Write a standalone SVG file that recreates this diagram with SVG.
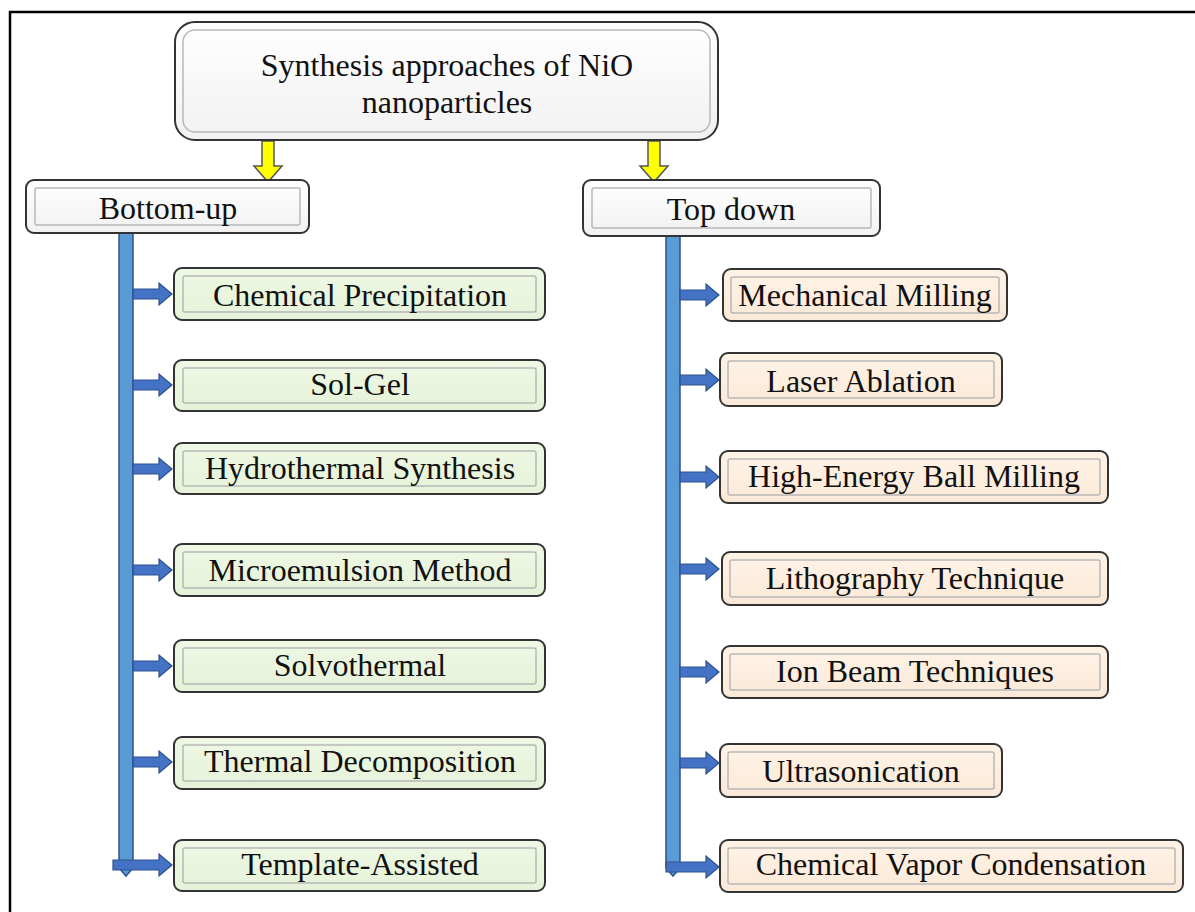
<svg xmlns="http://www.w3.org/2000/svg" width="1195" height="912" viewBox="0 0 1195 912">
<defs>
<linearGradient id="gTop" x1="0" y1="0" x2="0" y2="1"><stop offset="0" stop-color="#ffffff"/><stop offset="1" stop-color="#f1f1f1"/></linearGradient>
<linearGradient id="gGreen" x1="0" y1="0" x2="0" y2="1"><stop offset="0" stop-color="#eef8e4"/><stop offset="1" stop-color="#e6f2d8"/></linearGradient>
<linearGradient id="gPeach" x1="0" y1="0" x2="0" y2="1"><stop offset="0" stop-color="#fff3e6"/><stop offset="1" stop-color="#fbe9d8"/></linearGradient>
<style>
.outer{stroke:#333;stroke-width:2}
.inner{fill:none;stroke:#b8b8b8;stroke-width:1.5}
.g{fill:url(#gGreen)}
.p{fill:url(#gPeach)}
.w{fill:url(#gTop)}
.t{font-family:'Liberation Serif','Times New Roman','DejaVu Serif',serif;font-size:32px;fill:#111;text-anchor:middle}
.bar{fill:#5b9bd5;stroke:#2f528f;stroke-width:1.5}
.ar{fill:#4472c4;stroke:#2f528f;stroke-width:1.2}
.ya{fill:#ffff00;stroke:#555;stroke-width:1.5}
</style>
</defs>
<rect width="1195" height="912" fill="#fff"/>
<path d="M10 912 V12 H1195" fill="none" stroke="#000" stroke-width="2.5"/>

<g id="connectors">
<path class="ya" d="M262 141 H274 V166 H282 L268 182 L254 166 H262 Z"/>
<path class="ya" d="M648 141 H660 V166 H668 L654 182 L640 166 H648 Z"/>
<path class="bar" d="M119 233 H133 V868 L126 876 L119 868 Z"/>
<path class="bar" d="M666 236 H680 V868 L673 876 L666 868 Z"/>
<path class="ar" d="M133 289 H159 V283 L172 294 L159 305 V299 H133 Z"/>
<path class="ar" d="M133 380 H159 V374 L172 385 L159 396 V390 H133 Z"/>
<path class="ar" d="M133 464 H159 V458 L172 469 L159 480 V474 H133 Z"/>
<path class="ar" d="M133 565 H159 V559 L172 570 L159 581 V575 H133 Z"/>
<path class="ar" d="M133 661 H159 V655 L172 666 L159 677 V671 H133 Z"/>
<path class="ar" d="M133 757 H159 V751 L172 762 L159 773 V767 H133 Z"/>
<path class="ar" d="M113 860 H159 V854 L172 865 L159 876 V870 H113 Z"/>
<path class="ar" d="M680 290 H706 V284 L719 295 L706 306 V300 H680 Z"/>
<path class="ar" d="M680 375 H706 V369 L719 380 L706 391 V385 H680 Z"/>
<path class="ar" d="M680 472 H706 V466 L719 477 L706 488 V482 H680 Z"/>
<path class="ar" d="M680 564 H706 V558 L719 569 L706 580 V574 H680 Z"/>
<path class="ar" d="M680 667 H706 V661 L719 672 L706 683 V677 H680 Z"/>
<path class="ar" d="M680 758 H706 V752 L719 763 L706 774 V768 H680 Z"/>
<path class="ar" d="M666 862 H706 V856 L719 867 L706 878 V872 H666 Z"/>
</g>

<g id="root">
<rect class="outer w" x="175" y="22" width="543" height="118" rx="20"/>
<rect class="inner" x="183" y="30" width="527" height="102" rx="12"/>
<text class="t" x="447" y="76">Synthesis approaches of NiO</text>
<text class="t" x="447" y="113">nanoparticles</text>
</g>

<g id="bottom-up">
<rect class="outer w" x="26" y="180" width="283" height="53" rx="8"/>
<rect class="inner" x="35" y="188" width="265" height="37" rx="2"/>
<text class="t" x="168" y="219">Bottom-up</text>
</g>
<g id="top-down">
<rect class="outer w" x="583" y="180" width="297" height="56" rx="8"/>
<rect class="inner" x="592" y="188" width="279" height="40" rx="2"/>
<text class="t" x="731" y="220">Top down</text>
</g>

<g id="chemical-precipitation">
<rect class="outer g" x="174" y="268" width="371" height="52" rx="8"/>
<rect class="inner" x="183" y="276" width="353" height="36" rx="2"/>
<text class="t" x="360" y="306">Chemical Precipitation</text>
</g>
<g id="sol-gel">
<rect class="outer g" x="174" y="360" width="371" height="51" rx="8"/>
<rect class="inner" x="183" y="368" width="353" height="35" rx="2"/>
<text class="t" x="360" y="395">Sol-Gel</text>
</g>
<g id="hydrothermal">
<rect class="outer g" x="174" y="443" width="371" height="51" rx="8"/>
<rect class="inner" x="183" y="451" width="353" height="35" rx="2"/>
<text class="t" x="360" y="479">Hydrothermal Synthesis</text>
</g>
<g id="microemulsion">
<rect class="outer g" x="174" y="544" width="371" height="52" rx="8"/>
<rect class="inner" x="183" y="552" width="353" height="36" rx="2"/>
<text class="t" x="360" y="581">Microemulsion Method</text>
</g>
<g id="solvothermal">
<rect class="outer g" x="174" y="640" width="371" height="52" rx="8"/>
<rect class="inner" x="183" y="648" width="353" height="36" rx="2"/>
<text class="t" x="360" y="676">Solvothermal</text>
</g>
<g id="thermal-decomposition">
<rect class="outer g" x="174" y="737" width="371" height="52" rx="8"/>
<rect class="inner" x="183" y="745" width="353" height="36" rx="2"/>
<text class="t" x="360" y="772">Thermal Decomposition</text>
</g>
<g id="template-assisted">
<rect class="outer g" x="174" y="840" width="371" height="51" rx="8"/>
<rect class="inner" x="183" y="848" width="353" height="35" rx="2"/>
<text class="t" x="360" y="875">Template-Assisted</text>
</g>

<g id="mechanical-milling">
<rect class="outer p" x="723" y="269" width="284" height="52" rx="8"/>
<rect class="inner" x="731" y="277" width="268" height="36" rx="2"/>
<text class="t" x="865" y="306">Mechanical Milling</text>
</g>
<g id="laser-ablation">
<rect class="outer p" x="720" y="353" width="282" height="53" rx="8"/>
<rect class="inner" x="728" y="361" width="266" height="37" rx="2"/>
<text class="t" x="861" y="392">Laser Ablation</text>
</g>
<g id="high-energy-ball-milling">
<rect class="outer p" x="720" y="451" width="388" height="52" rx="8"/>
<rect class="inner" x="728" y="459" width="372" height="36" rx="2"/>
<text class="t" x="914" y="487">High-Energy Ball Milling</text>
</g>
<g id="lithography">
<rect class="outer p" x="722" y="552" width="386" height="53" rx="8"/>
<rect class="inner" x="730" y="560" width="370" height="37" rx="2"/>
<text class="t" x="915" y="589">Lithography Technique</text>
</g>
<g id="ion-beam">
<rect class="outer p" x="722" y="646" width="386" height="52" rx="8"/>
<rect class="inner" x="730" y="654" width="370" height="36" rx="2"/>
<text class="t" x="915" y="682">Ion Beam Techniques</text>
</g>
<g id="ultrasonication">
<rect class="outer p" x="720" y="744" width="282" height="53" rx="8"/>
<rect class="inner" x="728" y="752" width="266" height="37" rx="2"/>
<text class="t" x="861" y="782">Ultrasonication</text>
</g>
<g id="chemical-vapor-condensation">
<rect class="outer p" x="720" y="840" width="463" height="52" rx="8"/>
<rect class="inner" x="728" y="848" width="447" height="36" rx="2"/>
<text class="t" x="951" y="875">Chemical Vapor Condensation</text>
</g>
</svg>
